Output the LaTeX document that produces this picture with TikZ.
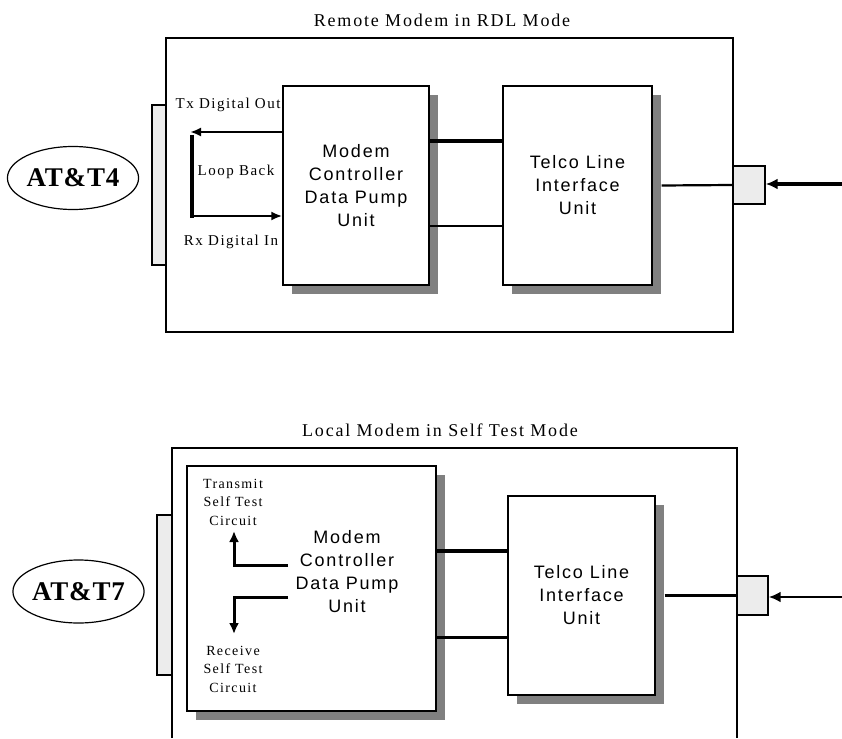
\documentclass[tikz,border=0pt]{standalone}
\usepackage{fontspec}
\setmainfont{Liberation Serif}
\newfontfamily\boxfont[LetterSpace=10]{Liberation Sans}
\newfontfamily\lblfont[LetterSpace=10]{Liberation Serif}
\newfontfamily\attfont[LetterSpace=3]{Liberation Serif}
\usetikzlibrary{arrows.meta,shapes.geometric,shadows}
\definecolor{shadowgray}{HTML}{808080}
\definecolor{portgray}{HTML}{ECECEC}
\begin{document}
\begin{tikzpicture}[x=1pt,y=-1pt,
  frame/.style={draw=black, line width=1.4pt, inner sep=0pt},
  unit/.style={draw=black, line width=1.4pt, fill=white, inner sep=0pt, align=center,
     font=\boxfont\fontsize{18}{23}\selectfont,
     general shadow={fill=shadowgray, shadow xshift=9pt, shadow yshift=-9pt}},
  unittext/.style={align=center, inner sep=0pt, font=\boxfont\fontsize{18}{23}\selectfont},
  port/.style={draw=black, line width=1.4pt, fill=portgray, inner sep=0pt},
  ttl/.style={inner sep=0pt, font=\lblfont\fontsize{18}{21}\selectfont},
  lbl/.style={inner sep=0pt, align=center, font=\lblfont\fontsize{15}{18.5}\selectfont},
  att/.style={ellipse, draw=black, line width=1.2pt, inner sep=0pt,
     font=\attfont\bfseries\fontsize{27}{27}\selectfont},
  larrow/.style={line width=2.2pt, -{Latex[length=11pt,width=9pt]}},
  barrow/.style={line width=3pt, -{Latex[length=11pt,width=10pt]}},
  inarrow/.style={-{Latex[length=12pt,width=11pt]}},
  wire/.style={line width=2.2pt}
]
\useasboundingbox (0,0) rectangle (842,738);

% ---------------- top: Remote Modem in RDL Mode ----------------
\node[ttl] (t1) at (442,20) {Remote Modem in RDL Mode};
\node[frame, minimum width=567pt, minimum height=294pt] (box1) at (449.5,185) {};
\node[port, minimum width=14pt, minimum height=160pt] (p1) at (159,185) {};
\node[att, minimum width=123pt, minimum height=63pt] (att4) at (73,178) {AT\&T4};

\node[unit, minimum width=146pt, minimum height=199pt] (m1) at (356,185.5)
  {Modem\\Controller\\Data Pump\\Unit};
\node[unit, minimum width=149pt, minimum height=199pt] (tl1) at (577.5,185.5)
  {Telco Line\\Interface\\Unit};
\node[port, minimum width=32pt, minimum height=38pt] (sq1) at (749,185) {};

\coordinate (c141) at (0,141);
\coordinate (c226) at (0,226);
\draw[line width=4pt] (m1.east |- c141) -- (tl1.west |- c141);
\draw[line width=2.5pt] (m1.east |- c226) -- (tl1.west |- c226);
\draw[wire] ([xshift=9pt]tl1.east) -- (sq1.west);
\coordinate (in1) at (842,184);
\draw[inarrow, line width=3.5pt] (in1) -- (sq1.east |- in1);

\node[lbl] (txl) at (228,105) {Tx Digital Out};
\node[lbl] (lbl1) at (236,172) {Loop Back};
\node[lbl] (rxl) at (231,242) {Rx Digital In};
\coordinate (txtip) at (190,132);
\draw[larrow] (m1.west |- txtip) -- (txtip);
\coordinate (lbtop) at (192,135);
\coordinate (lbbot) at (192,218);
\draw[line width=4.5pt] (lbtop) -- (lbbot);
\coordinate (rxs) at (190,216);
\draw[larrow] (rxs) -- (m1.west |- rxs);

% ---------------- bottom: Local Modem in Self Test Mode ----------------
\node[ttl] (t2) at (440,430) {Local Modem in Self Test Mode};
\coordinate (b2bl) at (172,738);
\coordinate (b2tl) at (172,448);
\coordinate (b2tr) at (737,448);
\coordinate (b2br) at (737,738);
\draw[line width=1.4pt] (b2bl) -- (b2tl) -- (b2tr) -- (b2br);
\node[port, minimum width=15pt, minimum height=160pt] (p2) at (164.5,595) {};
\node[att, minimum width=127pt, minimum height=63pt] (att7) at (78.5,591.5) {AT\&T7};

\node[unit, minimum width=249pt, minimum height=245pt] (m2) at (311.5,588.5) {};
\node[unittext] (m2t) at (347,572) {Modem\\Controller\\Data Pump\\Unit};
\node[unit, minimum width=147pt, minimum height=199pt] (tl2) at (581.5,595.5)
  {Telco Line\\Interface\\Unit};
\node[port, minimum width=31pt, minimum height=39pt] (sq2) at (752.5,595.5) {};

\coordinate (c551) at (0,551);
\coordinate (c637) at (0,637);
\draw[line width=4pt] (m2.east |- c551) -- (tl2.west |- c551);
\draw[line width=3pt] (m2.east |- c637) -- (tl2.west |- c637);
\draw[wire] ([xshift=9pt]tl2.east) -- (sq2.west);
\coordinate (in2) at (842,597);
\draw[inarrow, line width=2.5pt] (in2) -- (sq2.east |- in2);

\node[lbl, font=\lblfont\fontsize{14}{18.5}\selectfont] (tsl) at (233,502) {Transmit\\Self Test\\Circuit};
\node[lbl, font=\lblfont\fontsize{14}{18.5}\selectfont] (rsl) at (233,669) {Receive\\Self Test\\Circuit};
\coordinate (ts) at (288,565);
\coordinate (tt) at (234,531);
\draw[barrow] (ts) -| (tt);
\coordinate (rs) at (288,597);
\coordinate (rt) at (234,634);
\draw[barrow] (rs) -| (rt);
\end{tikzpicture}
\end{document}
